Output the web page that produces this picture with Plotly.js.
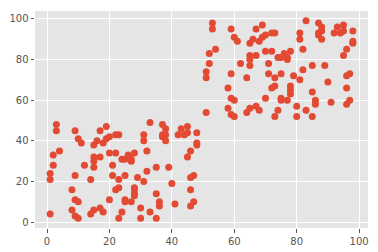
<!DOCTYPE html>
<html><head><meta charset="utf-8">
<script src="https://cdn.plot.ly/plotly-3.0.1.min.js"></script>
<style>html,body{margin:0;padding:0;background:#fff}#c{width:378px;height:252px}</style>
</head><body><div id="c"></div>
<script>
var xLow = [1,1,1,2,2,3,3,4,8,8,9,9,9,9,10,10,10,11,12,14,14,15,15,15,15,15,16,17,17,17,18,18,19,19,20,20,20,21,21,22,23,22,22,23,23,23,24,24,25,25,25,25,26,26,27,27,27,28,28,28,28,28,29,30,30,31,31,31,32,32,33,33,35,35,35,36,36,37,37,37,38,38,38,39,40,41,42,43,44,45,45,45,46,46,46,46,47,47,48,48,48];
var yLow = [4,24,21,28,33,48,45,35,16,6,45,23,11,3,10,41,2,39,28,21,4,38,32,30,27,6,40,32,45,7,39,5,47,41,42,34,11,28,23,43,43,34,16,21,17,2,31,5,31,23,11,10,33,32,31,30,10,34,17,16,14,13,22,7,2,43,40,20,35,25,49,5,27,14,2,10,8,48,43,42,46,43,40,27,19,9,43,46,43,47,44,32,35,22,16,8,23,10,44,39,38];
var xHigh = [51,51,51,52,52,53,53,54,58,58,59,59,59,59,60,60,60,61,62,64,64,65,65,65,65,65,66,67,67,67,68,68,69,69,70,70,70,71,71,72,72,72,73,73,73,73,74,74,75,75,75,75,76,77,77,77,78,78,78,78,79,80,80,81,81,81,82,82,83,83,85,85,85,86,86,87,87,87,88,88,88,89,90,91,92,93,94,95,95,95,96,96,96,96,97,97,98,98,98];
var yHigh = [54,74,71,78,83,98,95,85,66,56,95,73,61,53,91,60,52,89,78,71,54,88,82,80,77,56,90,95,82,57,89,55,97,91,92,84,61,78,73,93,84,66,93,71,67,52,81,55,81,73,61,60,83,81,80,60,84,67,65,63,72,57,52,93,90,70,85,75,99,55,77,64,52,60,58,98,93,92,96,94,90,77,69,59,93,96,93,97,94,82,85,72,66,58,73,60,94,89,88];
var xs = xLow.concat(xHigh), ys = yLow.concat(yHigh);
var tickVals = [0,20,40,60,80,100];
var tickText = ['0','20','40','60','80','100'];
var ax = {
  showline:false, zeroline:false, gridcolor:'#ffffff', gridwidth:1,
  ticks:'outside', ticklen:3.5, tickwidth:1, tickcolor:'#555555',
  tickvals:tickVals, ticktext:tickText,
  tickfont:{family:'DejaVu Sans', size:10, color:'#555555'}
};
var layout = {
  width:378, height:252,
  margin:{l:35, r:10, t:11, b:24, pad:0},
  paper_bgcolor:'#ffffff', plot_bgcolor:'#E5E5E5',
  showlegend:false,
  xaxis:Object.assign({range:[-3.85,102.85]}, ax),
  yaxis:Object.assign({range:[-2.85,103.85]}, ax)
};
Plotly.newPlot('c', [{
  type:'scatter', mode:'markers', x:xs, y:ys,
  marker:{color:'#E24A33', size:7, line:{width:0}}
}], layout, {displayModeBar:false, staticPlot:true});
</script></body></html>
